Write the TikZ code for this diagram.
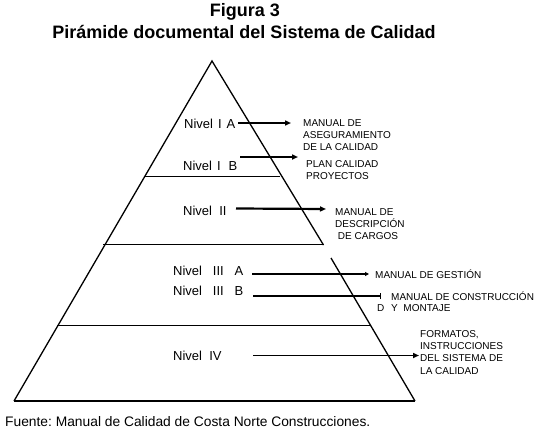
\documentclass[tikz,border=0pt]{standalone}
\usepackage{fontspec}
\setmainfont{Liberation Sans}
\usetikzlibrary{arrows.meta}
\frenchspacing
\tikzset{
  lvl/.style={anchor=west,inner sep=0pt,font=\fontsize{13}{15}\selectfont},
  doc/.style={anchor=north west,inner sep=0pt,align=left,font=\fontsize{10}{12.3}\selectfont},
  side/.style={line width=1.3pt},
  sep/.style={line width=1pt},
  arr/.style={line width=1.6pt,-{Triangle[length=6pt,width=5pt]}},
}
\begin{document}
\begin{tikzpicture}[x=1pt,y=-1pt]
\useasboundingbox (0,0) rectangle (541,436);
% title
\node[inner sep=0pt,font=\bfseries\fontsize{18}{20}\selectfont] (t1) at (245,12) {Figura 3};
\node[inner sep=0pt,font=\bfseries\fontsize{18}{20}\selectfont] (t2) at (244,32) {Pirámide documental del Sistema de Calidad};
% pyramid
\coordinate (apex) at (212,61);
\coordinate (bl) at (14,401);
\coordinate (br) at (415,401);
\coordinate (gapa) at (323.5,245);
\coordinate (gapb) at (331,258);
\draw[side] (bl) -- (apex) -- (gapa);
\draw[side] (gapb) -- (br);
\draw[line width=2pt] (bl) -- (br);
\draw[sep] (144,176.5) -- (280,176.5);
\draw[sep] (103,244.5) -- (323,244.5);
\draw[sep] (57,325) -- (370,325);
% level labels
\node[lvl] (n1a) at (184,124) {Nivel\hspace{5pt}I\hspace{5pt}A};
\node[lvl] (n1b) at (183,166) {Nivel\hspace{5pt}I\hspace{8pt}B};
\node[lvl] (n2) at (183,211) {Nivel\ \ II};
\node[lvl] (n3a) at (173,271) {Nivel\ \ \ III\ \ \ A};
\node[lvl] (n3b) at (173,291) {Nivel\ \ \ III\ \ \ B};
\node[lvl] (n4) at (173,356) {Nivel\ \ IV};
% documents
\node[doc] (d1) at (303,119) {MANUAL DE\\ASEGURAMIENTO\\DE LA CALIDAD};
\node[doc] (d2) at (306,160) {PLAN CALIDAD\\PROYECTOS};
\node[doc] (d3) at (335,208) {MANUAL DE\\DESCRIPCIÓN\\\ DE CARGOS};
\node[doc,anchor=west] (d4) at (375,274) {MANUAL DE GESTIÓN};
\node[doc,anchor=west] (d5) at (391,296) {MANUAL DE CONSTRUCCIÓN};
\node[doc,anchor=west] (d5b) at (377,308.5) {D};
\node[doc,anchor=west] (d5c) at (391,308.5) {Y\ \ MONTAJE};
\node[doc] (d6) at (420,330) {FORMATOS,\\INSTRUCCIONES\\DEL SISTEMA DE\\LA CALIDAD};
% arrows
\coordinate (a1s) at (238,123); \coordinate (a1e) at (291,123);
\coordinate (a2s) at (240,157); \coordinate (a2e) at (298,157);
\coordinate (a3s) at (236,208.5); \coordinate (a3e) at (326,209);
\coordinate (a4s) at (252,274); \coordinate (a4e) at (369,274);
\coordinate (a5s) at (253,296); \coordinate (a5e) at (381,296);
\coordinate (a6s) at (253,355.5); \coordinate (a6e) at (419,355.5);
\draw[arr] (a1s) -- (a1e);
\draw[arr] (a2s) -- (a2e);
\draw[arr,line width=2.2pt] (a3s) -- (a3e);
\draw[arr,line width=1.4pt,-{Triangle[length=4pt,width=4pt]}] (a4s) -- (a4e);
\draw[line width=1.4pt,-{Bar[width=6pt,line width=1pt]}] (a5s) -- (a5e);
\draw[arr] (a6s) -- (a6e);
% source
\node[anchor=west,inner sep=0pt,font=\fontsize{13.8}{16}\selectfont] (src) at (5,422) {Fuente: Manual de Calidad de Costa Norte Construcciones.};
\end{tikzpicture}
\end{document}
